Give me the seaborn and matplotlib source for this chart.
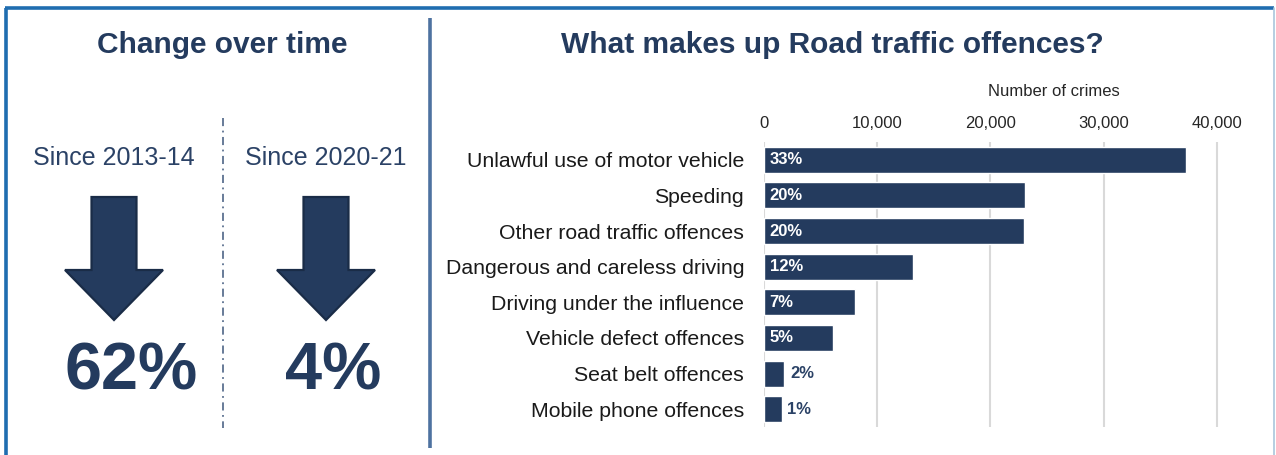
import matplotlib
matplotlib.use("Agg")
import matplotlib.pyplot as plt
from matplotlib.patches import Polygon
import seaborn as sns
import pandas as pd

# ---- data ----
categories = [
    "Unlawful use of motor vehicle",
    "Speeding",
    "Other road traffic offences",
    "Dangerous and careless driving",
    "Driving under the influence",
    "Vehicle defect offences",
    "Seat belt offences",
    "Mobile phone offences",
]
crimes = [37250, 23050, 22980, 13220, 8050, 6150, 1850, 1600]
shares = ["33%", "20%", "20%", "12%", "7%", "5%", "2%", "1%"]
xticks = [0, 10000, 20000, 30000, 40000]
xtick_labels = ["0", "10,000", "20,000", "30,000", "40,000"]

periods = ["Since 2013-14", "Since 2020-21"]
changes = ["62%", "4%"]

NAVY = "#243B5E"
TEXT_NAVY = "#2B4266"
BORDER = "#1F6DB0"

sns.set_theme(style="white")
plt.rcParams["font.family"] = ["Liberation Sans", "DejaVu Sans"]

W, H = 1276, 455
fig = plt.figure(figsize=(W / 100, H / 100), dpi=100)
fig.patch.set_facecolor("white")

# ---- background layer in pixel coordinates: frame, dividers, arrows ----
bg = fig.add_axes([0, 0, 1, 1])
bg.set_xlim(0, W)
bg.set_ylim(H, 0)
bg.axis("off")

# outer frame
bg.plot([6, 6], [8, H + 5], color=BORDER, lw=2.6, solid_capstyle="butt")
bg.plot([5, W - 2], [7.5, 7.5], color=BORDER, lw=2.6, solid_capstyle="butt")
bg.plot([W - 2, W - 2], [8, H + 5], color="#A9C6DC", lw=1.2)

# panel divider
bg.plot([430, 430], [18, 448], color="#4E72A0", lw=2.6, solid_capstyle="butt")
# dash-dot divider between the two periods
bg.plot([222.5, 222.5], [118, 428], color="#5C7190", lw=1.3,
        linestyle=(0, (4.5, 2.5, 1, 2.5)))

# down arrows (shaft + head outline)
def down_arrow(cx):
    shaft_w, head_w = 45, 98
    top, neck, tip = 197, 270, 320
    pts = [
        (cx - shaft_w / 2, top), (cx + shaft_w / 2, top),
        (cx + shaft_w / 2, neck), (cx + head_w / 2, neck),
        (cx, tip),
        (cx - head_w / 2, neck), (cx - shaft_w / 2, neck),
    ]
    bg.add_patch(Polygon(pts, closed=True, facecolor=NAVY,
                         edgecolor="#1A2C47", lw=1.6, joinstyle="miter"))

for cx, period in zip((114, 326), periods):
    down_arrow(cx)
    bg.text(cx, 158, period, ha="center", va="center",
            fontsize=18, color=TEXT_NAVY)

for cx, change in zip((131, 333), changes):
    bg.text(cx, 372, change, ha="center", va="center", fontsize=48,
            fontweight="bold", color=NAVY)

bg.text(222, 45, "Change over time", ha="center", va="center",
        fontsize=21.5, fontweight="bold", color=NAVY)
bg.text(832, 45, "What makes up Road traffic offences?", ha="center",
        va="center", fontsize=21.5, fontweight="bold", color=NAVY)
bg.text(1054, 92, "Number of crimes", ha="center", va="center",
        fontsize=12, color="#262626")

# ---- bar chart ----
px_per_unit = (1217 - 763.5) / 40000
xmax = 41000
left = 763.5 / W
width = xmax * px_per_unit / W
top_px, bot_px = 142, 427
ax = fig.add_axes([left, 1 - bot_px / H, width, (bot_px - top_px) / H])
ax.set_facecolor("none")

df = pd.DataFrame({"category": categories, "crimes": crimes})
sns.barplot(data=df, x="crimes", y="category", orient="h", color=NAVY,
            saturation=1, width=0.73, ax=ax, zorder=3)

ax.set_xlim(0, xmax)
ax.set_xticks(xticks)
ax.set_xticklabels(xtick_labels)
ax.xaxis.tick_top()
ax.tick_params(axis="x", length=0, pad=8, labelsize=12, labelcolor="#262626")
ax.tick_params(axis="y", length=0, pad=14, labelsize=15.3, labelcolor="#1A1A1A")
ax.set_xlabel("")
ax.set_ylabel("")
for s in ax.spines.values():
    s.set_visible(False)
ax.grid(axis="x", color="#D9D9D9", lw=1.5, zorder=0)
ax.grid(axis="y", visible=False)
ax.set_ylim(len(categories) - 0.5, -0.5)

for i, (val, lab) in enumerate(zip(crimes, shares)):
    if val > 4000:
        ax.text(550, i, lab, ha="left", va="center", fontsize=12,
                fontweight="bold", color="white", zorder=4)
    else:
        ax.text(val + 500, i, lab, ha="left", va="center", fontsize=12,
                fontweight="bold", color=TEXT_NAVY, zorder=4)

fig.savefig("out.png", dpi=100, facecolor="white")
